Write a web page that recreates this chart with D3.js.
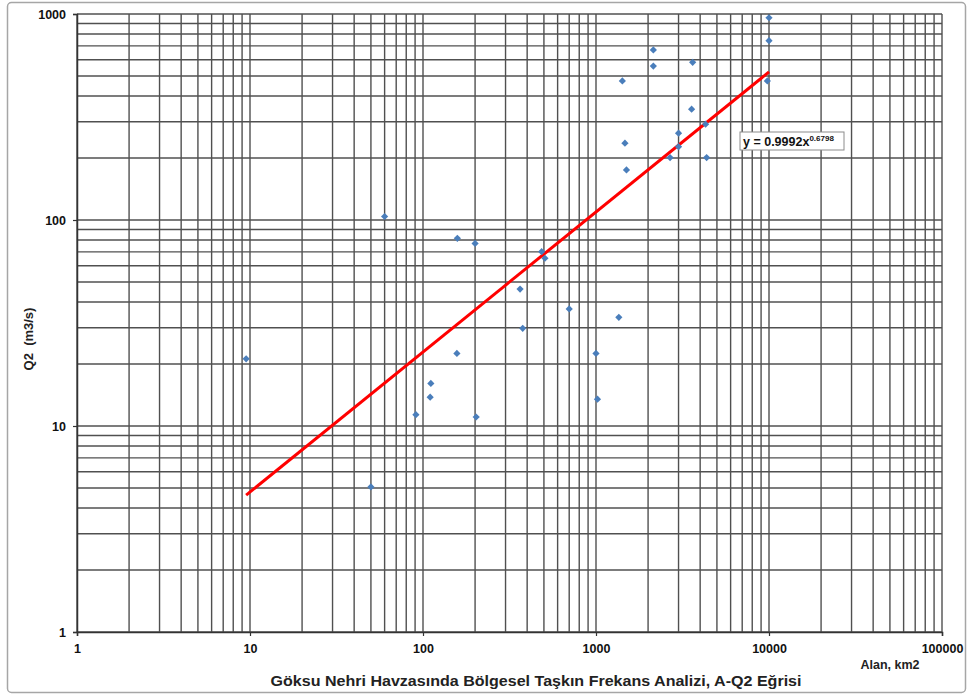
<!DOCTYPE html>
<html><head><meta charset="utf-8">
<script src="https://cdn.jsdelivr.net/npm/d3@7"></script>
<style>body{margin:0;background:#fff;}svg{display:block;font-family:Arial,"Liberation Sans",sans-serif;}</style>
</head><body><svg id="c" width="973" height="699"></svg>
<script>
// Data: catchment area (km2) and Q2 (m3/s)
const area = [9.5, 50, 60, 158, 200, 485, 507, 364, 700, 1355, 377, 157, 1000, 111, 110, 1020, 91, 203,
  1420, 1470, 1500, 2145, 2145, 3620, 10000, 10000, 9780, 3570, 3000, 4300, 3000, 2680, 4360];
const q2 = [21.2, 5.06, 104, 81.5, 77, 70.2, 65.2, 46.2, 37, 33.7, 29.8, 22.5, 22.5, 16.1, 13.8, 13.5, 11.35, 11.06,
  473, 236, 175, 669, 559, 583, 959, 742, 473, 345, 264, 292, 227, 201, 201];
const xTickLabels = [1, 10, 100, 1000, 10000, 100000];
const yTickLabels = [1, 10, 100, 1000];
const trendA = 0.9992, trendB = 0.6798;
const trendRange = [9.5, 10000];
const titleText = "Göksu Nehri Havzasında Bölgesel Taşkın Frekans Analizi, A-Q2 Eğrisi";
const xTitle = "Alan, km2";
const yTitle = "Q2  (m3/s)";

const svg = d3.select("#c");
const L = 77, R = 942, T = 14, B = 632;
const x = d3.scaleLog().domain([1, 100000]).range([L, R]);
const y = d3.scaleLog().domain([1, 1000]).range([B, T]);

// outer frame
svg.append("rect").attr("x", 7.5).attr("y", 2.5).attr("width", 958).attr("height", 690)
  .attr("rx", 4).attr("fill", "#fff").attr("stroke", "#a6a6a6").attr("stroke-width", 1.5);

// grid
const xGrid = [];
for (let e = 0; e < 5; e++) for (let m = 1; m <= 9; m++) xGrid.push(m * Math.pow(10, e));
xGrid.push(100000);
const yGrid = [];
for (let e = 0; e < 3; e++) for (let m = 1; m <= 9; m++) yGrid.push(m * Math.pow(10, e));
yGrid.push(1000);

const g = svg.append("g");
g.selectAll("line.v").data(xGrid).join("line").attr("class", "v")
  .attr("x1", d => x(d)).attr("x2", d => x(d)).attr("y1", T).attr("y2", B)
  .attr("stroke", "#505050").attr("stroke-width", 1.4);
g.selectAll("line.h").data(yGrid).join("line").attr("class", "h")
  .attr("x1", L).attr("x2", R).attr("y1", d => y(d)).attr("y2", d => y(d))
  .attr("stroke", "#505050").attr("stroke-width", 1.4);

// axes
const yAxis = d3.axisLeft(y).tickValues(yTickLabels).tickFormat(d3.format("d")).tickSize(4).tickPadding(7);
const xAxis = d3.axisBottom(x).tickValues(xTickLabels).tickFormat(d3.format("d")).tickSize(4).tickPadding(8);
const ya = svg.append("g").attr("transform", `translate(${L},0)`).call(yAxis);
const xa = svg.append("g").attr("transform", `translate(0,${B})`).call(xAxis);
[ya, xa].forEach(a => {
  a.select(".domain").attr("stroke", "#333").attr("stroke-width", 1.5);
  a.selectAll(".tick line").attr("stroke", "#333").attr("stroke-width", 1.2);
  a.selectAll("text").attr("font-size", 12.5).attr("font-weight", "bold").attr("fill", "#111")
    .attr("font-family", "Arial, 'Liberation Sans', sans-serif");
});
ya.selectAll("text").attr("dy", "0.35em");

// trendline
const trend = trendRange.map(v => [v, trendA * Math.pow(v, trendB)]);
svg.append("path").datum(trend)
  .attr("d", d3.line().x(d => x(d[0])).y(d => y(d[1])))
  .attr("stroke", "#f00").attr("stroke-width", 3).attr("fill", "none");

// points
const pts = area.map((a, i) => [a, q2[i]]);
svg.selectAll("path.pt").data(pts).join("path").attr("class", "pt")
  .attr("d", d3.symbol(d3.symbolSquare, 26)())
  .attr("transform", d => `translate(${x(d[0])},${y(d[1])}) rotate(45)`)
  .attr("fill", "#4a7ebb");

// equation label
const eq = svg.append("g").attr("transform", "translate(740,132)");
eq.append("rect").attr("width", 104).attr("height", 18).attr("fill", "#fff")
  .attr("stroke", "#8c8c8c").attr("stroke-width", 1);
const et = eq.append("text").attr("x", 3).attr("y", 14).attr("font-size", 12.5).attr("font-weight", "bold").attr("fill", "#111");
et.append("tspan").text("y = 0.9992x");
et.append("tspan").attr("font-size", 8).attr("dy", -5).text("0.6798");

// titles
svg.append("text").attr("x", 536).attr("y", 686).attr("text-anchor", "middle")
  .attr("font-size", 15.5).attr("font-weight", "bold").attr("fill", "#222")
  .attr("textLength", 531).attr("lengthAdjust", "spacingAndGlyphs").text(titleText);
svg.append("text").attr("x", 890).attr("y", 669).attr("text-anchor", "middle")
  .attr("font-size", 12.5).attr("font-weight", "bold").attr("fill", "#222").text(xTitle);
svg.append("text").attr("transform", "translate(33,339) rotate(-90)").attr("text-anchor", "middle")
  .attr("font-size", 13).attr("font-weight", "bold").attr("fill", "#222").attr("xml:space", "preserve").text(yTitle);
</script></body></html>
